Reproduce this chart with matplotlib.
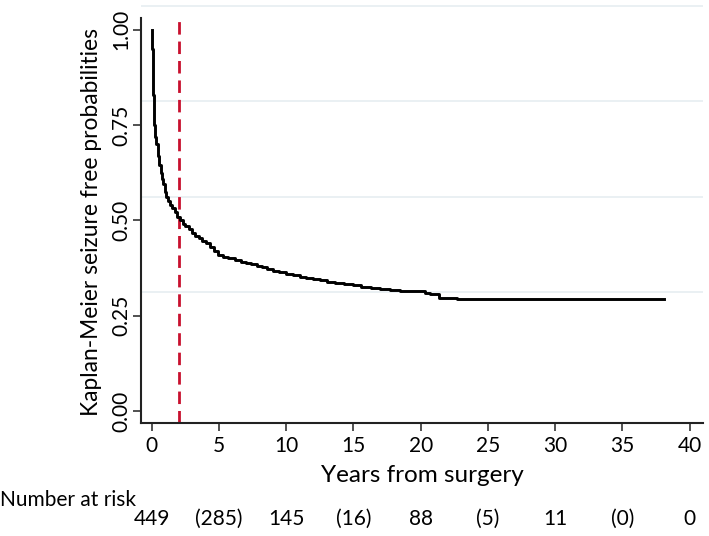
import matplotlib
matplotlib.use("Agg")
import matplotlib.pyplot as plt

plt.rcParams['font.family'] = ['Lato', 'DejaVu Sans']

# Kaplan-Meier estimate (years, survival)
times = [0, 0.03, 0.06, 0.1, 0.14, 0.2, 0.27, 0.35, 0.45, 0.55, 0.65, 0.75, 0.85,
         0.95, 1.05, 1.2, 1.35, 1.5, 1.7, 1.9, 2.1, 2.3, 2.5, 2.75, 3.0, 3.25,
         3.5, 3.75, 4.0, 4.3, 4.6, 4.9, 5.3, 5.7, 6.2, 6.6, 7.0, 7.4, 7.8, 8.2,
         8.6, 9.0, 9.5, 10.0, 10.5, 11.0, 11.5, 12.0, 12.5, 13.0, 13.6, 14.3,
         15.0, 15.6, 16.3, 17.0, 17.7, 18.5, 20.3, 20.7, 21.4, 22.7, 38.1]
surv = [1.0, 0.95, 0.90, 0.83, 0.78, 0.75, 0.72, 0.70, 0.67, 0.645, 0.625, 0.61,
        0.595, 0.575, 0.562, 0.55, 0.54, 0.532, 0.521, 0.51, 0.50, 0.492, 0.485,
        0.477, 0.468, 0.46, 0.453, 0.447, 0.44, 0.43, 0.42, 0.41, 0.404, 0.401,
        0.397, 0.392, 0.388, 0.385, 0.381, 0.377, 0.372, 0.368, 0.364, 0.36,
        0.356, 0.353, 0.35, 0.347, 0.343, 0.339, 0.336, 0.334, 0.331, 0.325,
        0.322, 0.32, 0.317, 0.314, 0.310, 0.306, 0.298, 0.294, 0.294]

cutoff = 2
risk_times = [0, 5, 10, 15, 20, 25, 30, 35, 40]
risk_labels = ["449", "(285)", "145", "(16)", "88", "(5)", "11", "(0)", "0"]
grid_y = [0.3125, 0.5625, 0.8125, 1.0625]

fig = plt.figure(figsize=(7.09, 5.36), dpi=100)
ax = fig.add_axes([0.1989, 0.2108, 0.7926, 0.7892])

for g in grid_y:
    ax.axhline(g, color="#e6eef1", lw=1.2, zorder=0)

ax.step(times, surv, where="post", color="black", lw=2.1, zorder=3)
ax.plot([cutoff, cutoff], [-0.031, 1.025], color="#c8102e", lw=2,
        dashes=(4.5, 2.5), zorder=2)

ax.set_xlim(-0.8, 41)
ax.set_ylim(-0.031, 1.078)
ax.set_xticks([0, 5, 10, 15, 20, 25, 30, 35, 40])
ax.set_yticks([0, 0.25, 0.5, 0.75, 1.0])
ax.set_yticklabels(["0.00", "0.25", "0.50", "0.75", "1.00"], rotation=90, va="center")
ax.tick_params(axis="both", labelsize=15, width=1.2, length=6, color="#333333")
ax.tick_params(axis="y", pad=1)

ax.spines["top"].set_visible(False)
ax.spines["right"].set_visible(False)
ax.spines["left"].set_bounds(-0.031, 1.031)
for s in ["left", "bottom"]:
    ax.spines[s].set_linewidth(1.5)
    ax.spines[s].set_color("#222222")

ax.set_xlabel("Years from surgery", fontsize=17.5, labelpad=6)
ax.set_ylabel("Kaplan-Meier seizure free probabilities", fontsize=16.4, labelpad=7)
ax.yaxis.set_label_coords(-0.07, 0.475)

fig.text(0.0, 1 - 500 / 536, "Number at risk", fontsize=15, va="center", ha="left")
for t, lab in zip(risk_times, risk_labels):
    x_fig = ax.transData.transform((t, 0))[0] / fig.bbox.width
    fig.text(x_fig, 1 - 519 / 536, lab, fontsize=15, va="center", ha="center")

fig.savefig("out.png", dpi=100)
